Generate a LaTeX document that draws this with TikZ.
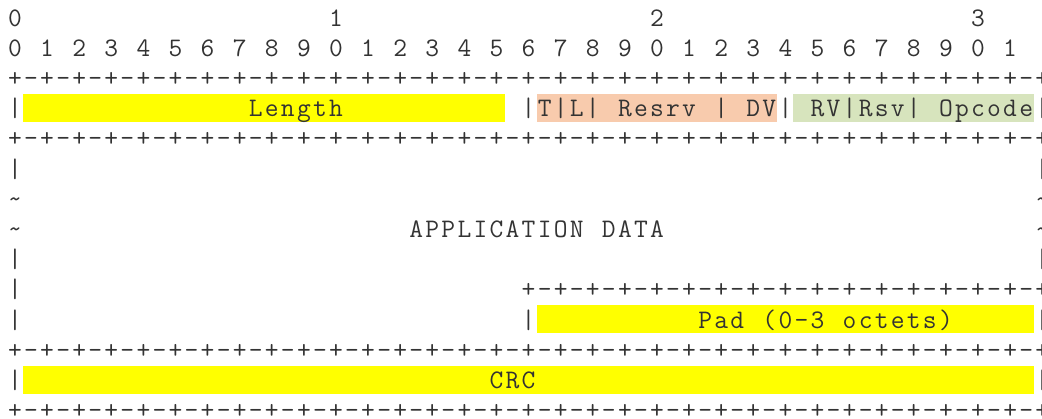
\documentclass[tikz,border=0pt]{standalone}
\definecolor{hlyellow}{HTML}{FFFF00}
\definecolor{hlpeach}{HTML}{F8CBAD}
\definecolor{hlgreen}{HTML}{D7E4BD}
\newlength\cw
\setlength\cw{12.0375pt}
\makeatletter
\def\spreadchars#1{\spread@i#1\relax}
\def\spread@i#1{\ifx#1\relax\else\ifx#1*\makebox[\cw][c]{}\else\makebox[\cw][c]{#1}\fi\expandafter\spread@i\fi}
\makeatother
\begin{document}
\begin{tikzpicture}[x=0.75pt,y=-0.75pt,
  ch/.style={inner sep=0pt, outer sep=0pt, anchor=base west, text=black!80,
    font=\ttfamily\fontsize{20.06pt}{24pt}\selectfont}]
\clip (0,0) rectangle (1042,418);
\useasboundingbox (0,0) rectangle (1042,418);
% highlight bands: row, first column, last column
\newcommand\band[4]{\fill[#1] ({7+16.05*(#3)},{26+30.2*(#2-1)-22.6}) rectangle ({7+16.05*(#4+1)},{26+30.2*(#2-1)+5.4});}
\newcommand\txt[3]{\node[ch] (t#1-#2) at ({7+16.05*(#2)},{26+30.2*(#1-1)}) {\spreadchars{#3}};}
\newcommand\plusrow[3]{\foreach \i in {#2,...,#3}{%
  \pgfmathtruncatemacro\m{mod(\i,2)}%
  \ifnum\m=0 \node[ch] (p#1-\i) at ({7+16.05*\i},{26+30.2*(#1-1)}) {\makebox[\cw]{+}};%
  \else \node[ch] (p#1-\i) at ({7+16.05*\i},{26+30.2*(#1-1)}) {\makebox[\cw]{-}};\fi}}
\band{hlyellow}{4}{1}{30}
\band{hlpeach}{4}{33}{47}
\band{hlgreen}{4}{49}{63}
\band{hlyellow}{11}{33}{63}
\band{hlyellow}{13}{1}{63}
% row 1 and 2: bit numbers
\txt{1}{0}{0}
\txt{1}{20}{1}
\txt{1}{40}{2}
\txt{1}{60}{3}
\txt{2}{0}{0*1*2*3*4*5*6*7*8*9*0*1*2*3*4*5*6*7*8*9*0*1*2*3*4*5*6*7*8*9*0*1}
\plusrow{3}{0}{64}
\txt{4}{0}{|}
\txt{4}{15}{Length}
\txt{4}{32}{|T|L|*Resrv*|*DV|*RV|Rsv|*Opcode|}
\plusrow{5}{0}{64}
\txt{6}{0}{|}
\txt{6}{64}{|}
\txt{7}{0}{\textasciitilde}
\txt{7}{64}{\textasciitilde}
\txt{8}{0}{\textasciitilde}
\txt{8}{25}{APPLICATION*DATA}
\txt{8}{64}{\textasciitilde}
\txt{9}{0}{|}
\txt{9}{64}{|}
\txt{10}{0}{|}
\plusrow{10}{32}{64}
\txt{11}{0}{|}
\txt{11}{32}{|}
\txt{11}{43}{Pad*(0-3*octets)}
\txt{11}{64}{|}
\plusrow{12}{0}{64}
\txt{13}{0}{|}
\txt{13}{30}{CRC}
\txt{13}{64}{|}
\plusrow{14}{0}{64}
\end{tikzpicture}
\end{document}
